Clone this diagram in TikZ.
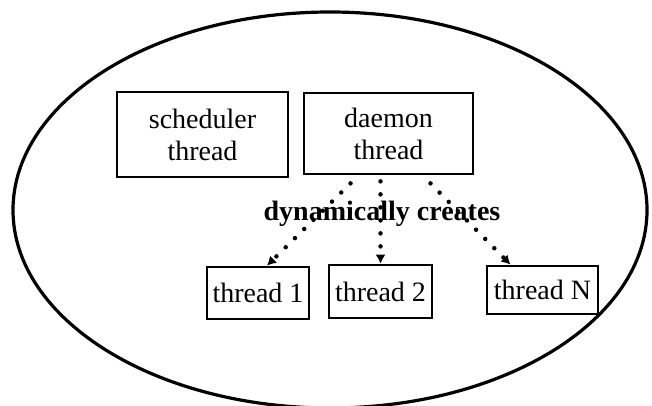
\documentclass[tikz,border=0pt]{standalone}
\usepackage{fontspec}
\setmainfont{Liberation Serif}
\usetikzlibrary{calc,arrows.meta}

\begin{document}
\begin{tikzpicture}[x=1pt,y=-1pt,>={Latex[length=9pt,width=10pt]},
  box/.style={draw,line width=2.7pt,inner sep=0pt,align=center,font=\fontsize{28}{32}\selectfont},
  dots/.style={line width=4.5pt,line cap=round,dash pattern=on 0pt off 13pt}]
\clip (0,0) rectangle (652,405);
\draw[line width=3.2pt] (330,210) ellipse [x radius=317,y radius=198];
\node[box,minimum width=171pt,minimum height=85pt] (sched) at (202.5,134.5) {scheduler\\thread};
\node[box,minimum width=169pt,minimum height=81pt] (daemon) at (388.5,133.5) {daemon\\thread};
\node[box,minimum width=102pt,minimum height=52pt] (thread1) at (258,293) {thread 1};
\node[box,minimum width=103pt,minimum height=53pt] (thread2) at (380.5,291.5) {thread 2};
\node[box,minimum width=111pt,minimum height=48pt] (threadN) at (542.5,290) {thread N};
\node[anchor=base,font=\fontsize{28}{32}\selectfont\bfseries] (creates) at (382,220) {dynamically creates};
% dotted arrows out of the daemon
\draw[dots,->] ($(daemon.south)+(-38,8)$) -- ($(thread1.north)+(9,0)$);
\draw[dots,->] ($(daemon.south)+(-8,6)$) -- ($(thread2.north)+(0,0)$);
\draw[dots,->] ($(daemon.south)+(42,8)$) -- ($(threadN.north)+(-32,0)$);
\end{tikzpicture}
\end{document}
